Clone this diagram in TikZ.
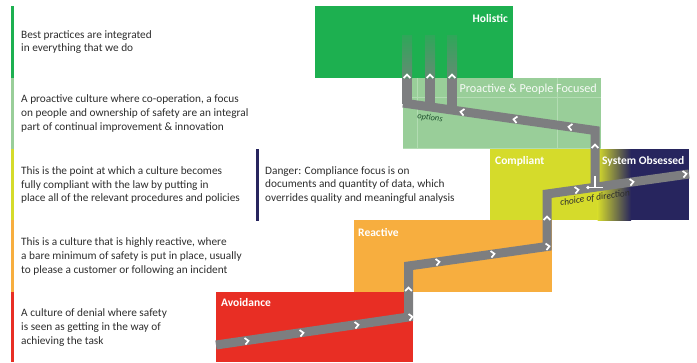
\documentclass[tikz,border=0pt]{standalone}
\usepackage{fontspec}
\setmainfont{Carlito}
\definecolor{hgreen}{RGB}{29,176,80}
\definecolor{lgreen}{RGB}{153,206,153}
\definecolor{gridg}{RGB}{178,220,178}
\definecolor{ygreen}{RGB}{213,219,43}
\definecolor{orng}{RGB}{247,174,63}
\definecolor{redc}{RGB}{232,46,36}
\definecolor{navy}{RGB}{39,37,94}
\definecolor{pgrey}{RGB}{125,126,128}
\definecolor{txt}{RGB}{45,45,45}
\definecolor{optg}{RGB}{30,80,45}
\tikzset{
  desc/.style={font=\fontsize{11.3}{13.7}\selectfont, align=left, inner sep=0pt, text=txt, anchor=west},
  lbl/.style={font=\fontsize{11.5}{13}\selectfont\bfseries, text=white, inner sep=0pt},
  road/.style={draw=pgrey, line width=9pt, line join=miter, line cap=butt},
  chev/.pic={\draw[white, line width=1.7pt, line join=miter] (-2,-3.3) -- (1.5,0) -- (-2,3.3);},
  lbar/.style={line width=3pt}
}
\begin{document}
\begin{tikzpicture}[x=1pt,y=-1pt]
\useasboundingbox (0,0) rectangle (697,362);
% left bars
\draw[lbar, hgreen] (12.5,6) -- (12.5,78);
\draw[lbar, lgreen] (12.5,78) -- (12.5,149);
\draw[lbar, ygreen] (12.5,149) -- (12.5,220);
\draw[lbar, orng] (12.5,220) -- (12.5,292);
\draw[lbar, redc] (12.5,292) -- (12.5,362);
\draw[lbar, navy] (257,149) -- (257,221);
% descriptions
\node[desc] (d1) at (21,42) {Best practices are integrated\\in everything that we do};
\node[desc] (d2) at (21,113.5) {A proactive culture where co-operation, a focus\\on people and ownership of safety are an integral\\part of continual improvement \& innovation};
\node[desc] (d3) at (21,185) {This is the point at which a culture becomes\\fully compliant with the law by putting in\\place all of the relevant procedures and policies};
\node[desc] (d4) at (265,185) {Danger: Compliance focus is on\\documents and quantity of data, which\\overrides quality and meaningful analysis};
\node[desc] (d5) at (21,256.5) {This is a culture that is highly reactive, where\\a bare minimum of safety is put in place, usually\\to please a customer or following an incident};
\node[desc] (d6) at (21,327.5) {A culture of denial where safety\\is seen as getting in the way of\\achieving the task};
% boxes
\fill[hgreen] (315,6) rectangle (513,78);
\fill[lgreen] (403,78) rectangle (601,149);
\draw[gridg, line width=0.8pt] (403,97) -- (601,97) (417,78) -- (417,149) (557,78) -- (557,149) (403,148.5) -- (601,148.5);
\fill[ygreen] (490,149) rectangle (598,220);
\shade[left color=ygreen, right color=navy] (597.5,149) rectangle (631,220);
\fill[navy] (630.5,149) rectangle (689,220);
\fill[orng] (354,220) rectangle (552,292);
\fill[redc] (216,292) rectangle (413,362);
% labels
\node[lbl, anchor=east] (hol) at (508,18) {Holistic};
\node[lbl, anchor=east, font=\fontsize{12.2}{13}\selectfont, text=white!92!lgreen] (pro) at (597,89) {Proactive \& People Focused};
\node[lbl, anchor=west] (com) at (495,161) {Compliant};
\node[lbl, anchor=west] (sys) at (602,161) {System Obsessed};
\node[lbl, anchor=west] (rea) at (358,232) {Reactive};
\node[lbl, anchor=west] (avo) at (221,303) {Avoidance};
% roads
\draw[road] (216,345) -- (408.5,317) -- (408.5,266) -- (547,246.5) -- (547,194) -- (689,174);
\draw[road] (595,187) -- (595,130.5) -- (403,103);
\foreach \x/\yb in {407/103.6, 430/106.8, 452/110}{
  \fill[pgrey] (\x-5,78) rectangle (\x+5,\yb);
  \shade[top color=hgreen!82!pgrey, bottom color=pgrey!75!hgreen] (\x-5,35) rectangle (\x+5,78);
}
% chevrons
\foreach \p in {(247,341),(302,333),(357,325),(411,317),(438,262),(493,254),(548,246.5),(577,190),(632,182),(685,174)}
  \pic[rotate=8] at \p {chev};
\foreach \p in {(408.5,289),(547,218),(595,146),(407,76),(430,76),(452,76)}
  \pic[rotate=90] at \p {chev};
\foreach \p in {(462,112),(515,119.5),(570,127)}
  \pic[rotate=172] at \p {chev};
% choice icon
\draw[white, line width=1.4pt] (588,187.5) -- (603,187.5) (595,187.5) -- (595,176);
\fill[white] (588,187.5) circle (1.8);
% notes
\node[font=\fontsize{8.5}{9}\selectfont\itshape, text=optg, rotate=-8, inner sep=0pt] (opt) at (430,118) {options};
\node[font=\fontsize{9.5}{11}\selectfont\itshape, text=txt, rotate=8, inner sep=0pt] (cho) at (595,198) {choice of direction};
\end{tikzpicture}
\end{document}
